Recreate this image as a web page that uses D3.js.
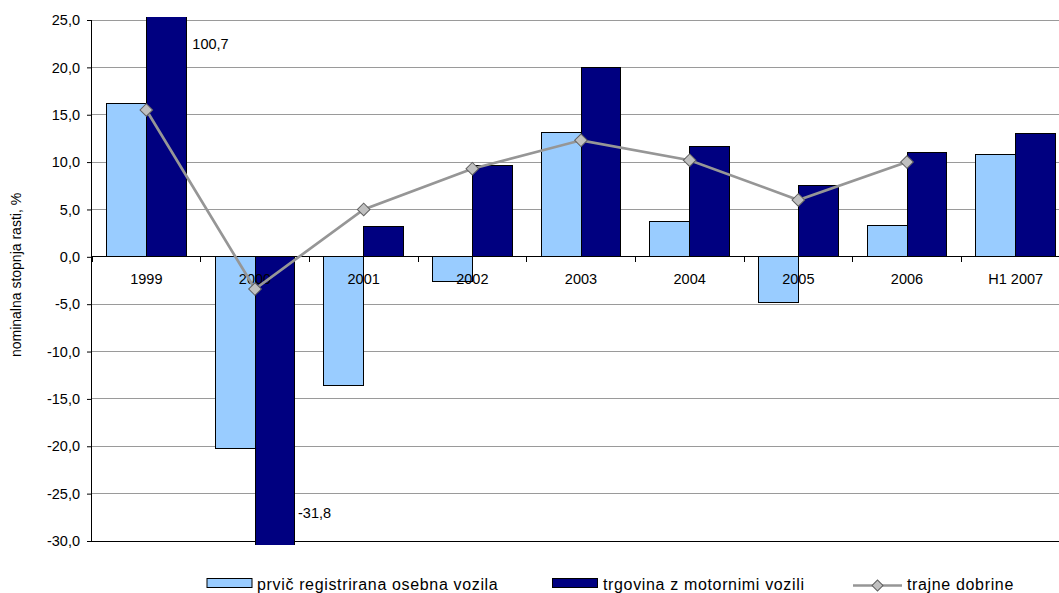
<!DOCTYPE html>
<html>
<head>
<meta charset="utf-8">
<script src="https://cdn.jsdelivr.net/npm/d3@7"></script>
<style>
  html, body { margin: 0; padding: 0; background: #fff; }
  svg { display: block; font-family: "Liberation Sans", Arial, sans-serif; }
</style>
</head>
<body>
<svg id="chart" width="1059" height="593"></svg>
<script>
const categories = ["1999", "2000", "2001", "2002", "2003", "2004", "2005", "2006", "H1 2007"];
const prvicRegistrirana = [16.2, -20.2, -13.6, -2.6, 13.1, 3.7, -4.8, 3.3, 10.8];
const trgovinaVozila = [100.7, -31.8, 3.2, 9.6, 20.0, 11.6, 7.5, 11.0, 13.0];
const trajneDobrine = [15.5, -3.4, 5.0, 9.3, 12.3, 10.2, 6.0, 10.0, null];
const yTicks = [25, 20, 15, 10, 5, 0, -5, -10, -15, -20, -25, -30];
const seriesNames = ["prvič registrirana osebna vozila", "trgovina z motornimi vozili", "trajne dobrine"];
const yTitle = "nominalna stopnja rasti, %";

(function () {
const colLight = "#99CCFF", colDark = "#000080", colLine = "#969696", colMarker = "#C0C0C0";
const fmt = v => d3.format(".1f")(v).replace(".", ",").replace("−", "-");

const svg = d3.select("#chart");
const pL = 92, pR = 1070, pT = 20, pB = 541;
const fs = 14.5;

const x0 = d3.scaleBand().domain(categories).range([pL, pR]).paddingInner(0.264).paddingOuter(0.132);
const x1 = d3.scaleBand().domain([0, 1]).range([0, x0.bandwidth()]);
const y = d3.scaleLinear().domain([-30, 25]).range([pB, pT]);
const step = x0.step();

// gridlines
svg.append("g").selectAll("line").data(yTicks.filter(t => t !== 0 && t !== -30)).join("line")
  .attr("x1", pL).attr("x2", 1059).attr("y1", d => y(d)).attr("y2", d => y(d))
  .attr("stroke", "#9a9a9a").attr("stroke-width", 1).attr("shape-rendering", "crispEdges");
svg.append("line").attr("x1", pL).attr("x2", 1059).attr("y1", y(-30)).attr("y2", y(-30))
  .attr("stroke", "#000").attr("shape-rendering", "crispEdges");

svg.append("defs").append("clipPath").attr("id", "clip").append("rect")
  .attr("x", pL).attr("y", pT - 3).attr("width", 1059 - pL).attr("height", pB - pT + 7);

const bars = svg.append("g").attr("clip-path", "url(#clip)");
const bar = (vals, idx, col) => bars.append("g").selectAll("rect").data(vals).join("rect")
  .attr("x", (d, i) => x0(categories[i]) + x1(idx))
  .attr("width", x1.bandwidth())
  .attr("y", d => y(Math.max(0, d)))
  .attr("height", d => Math.abs(y(d) - y(0)))
  .attr("fill", col).attr("stroke", "#000").attr("stroke-width", 1).attr("shape-rendering", "crispEdges");
bar(prvicRegistrirana, 0, colLight);
bar(trgovinaVozila, 1, colDark);

// y axis
const yAxis = d3.axisLeft(y).tickValues(yTicks).tickSize(5).tickPadding(7).tickFormat(fmt);
const gy = svg.append("g").attr("transform", `translate(${pL},0)`).call(yAxis);
gy.select(".domain").attr("stroke", "#000").attr("d", `M-0.5,${pT}V${pB}`);
gy.selectAll(".tick line").attr("stroke", "#000");
gy.selectAll("text").attr("font-size", fs).attr("fill", "#000").attr("font-family", "Liberation Sans, Arial, sans-serif");

// x axis at zero
const gx = svg.append("g");
gx.append("line").attr("x1", pL).attr("x2", 1059).attr("y1", y(0)).attr("y2", y(0))
  .attr("stroke", "#000").attr("shape-rendering", "crispEdges");
gx.selectAll("line.tk").data(categories).join("line").attr("class", "tk")
  .attr("x1", d => x0(d) - step * x0.paddingInner() / 2).attr("x2", d => x0(d) - step * x0.paddingInner() / 2)
  .attr("y1", y(0)).attr("y2", y(0) + 5).attr("stroke", "#000").attr("shape-rendering", "crispEdges");
gx.selectAll("text").data(categories).join("text")
  .attr("x", d => x0(d) + x0.bandwidth() / 2).attr("y", y(0) + 27)
  .attr("text-anchor", "middle").attr("font-size", fs).text(d => d);

// line series
const pts = trajneDobrine.map((v, i) => ({ c: categories[i], v })).filter(d => d.v !== null);
const cx = d => x0(d.c) + x0.bandwidth() / 2;
svg.append("path").datum(pts)
  .attr("d", d3.line().x(cx).y(d => y(d.v)))
  .attr("fill", "none").attr("stroke", colLine).attr("stroke-width", 2.7);
svg.append("g").selectAll("path").data(pts).join("path")
  .attr("d", d3.symbol().type(d3.symbolSquare).size(80))
  .attr("transform", d => `translate(${cx(d)},${y(d.v)}) rotate(45)`)
  .attr("fill", colMarker).attr("stroke", "#606060").attr("stroke-width", 1);

// off-scale labels
svg.append("text").attr("x", x0(categories[0]) + x0.bandwidth() + 6).attr("y", y(25) + 29)
  .attr("font-size", fs).text(fmt(trgovinaVozila[0]));
svg.append("text").attr("x", x0(categories[1]) + x0.bandwidth() + 3).attr("y", y(-30) - 23)
  .attr("font-size", fs).text(fmt(trgovinaVozila[1]));

// y title
svg.append("text").attr("transform", `translate(21,275) rotate(-90)`)
  .attr("text-anchor", "middle").attr("font-size", 14).text(yTitle);

// legend
const lg = svg.append("g").attr("font-size", 16).attr("letter-spacing", 0.65);
lg.append("rect").attr("x", 207).attr("y", 578.5).attr("width", 45).attr("height", 9)
  .attr("fill", colLight).attr("stroke", "#000");
lg.append("text").attr("x", 257).attr("y", 590).text(seriesNames[0]);
lg.append("rect").attr("x", 552.5).attr("y", 578.5).attr("width", 45).attr("height", 9)
  .attr("fill", colDark).attr("stroke", "#000");
lg.append("text").attr("x", 603).attr("y", 590).text(seriesNames[1]);
lg.append("line").attr("x1", 853).attr("x2", 902).attr("y1", 585.5).attr("y2", 585.5)
  .attr("stroke", colLine).attr("stroke-width", 2.7);
lg.append("path").attr("d", d3.symbol().type(d3.symbolSquare).size(60))
  .attr("transform", "translate(877.5,585.5) rotate(45)")
  .attr("fill", colMarker).attr("stroke", "#606060");
lg.append("text").attr("x", 907).attr("y", 590).text(seriesNames[2]);
})();
</script>
</body>
</html>
